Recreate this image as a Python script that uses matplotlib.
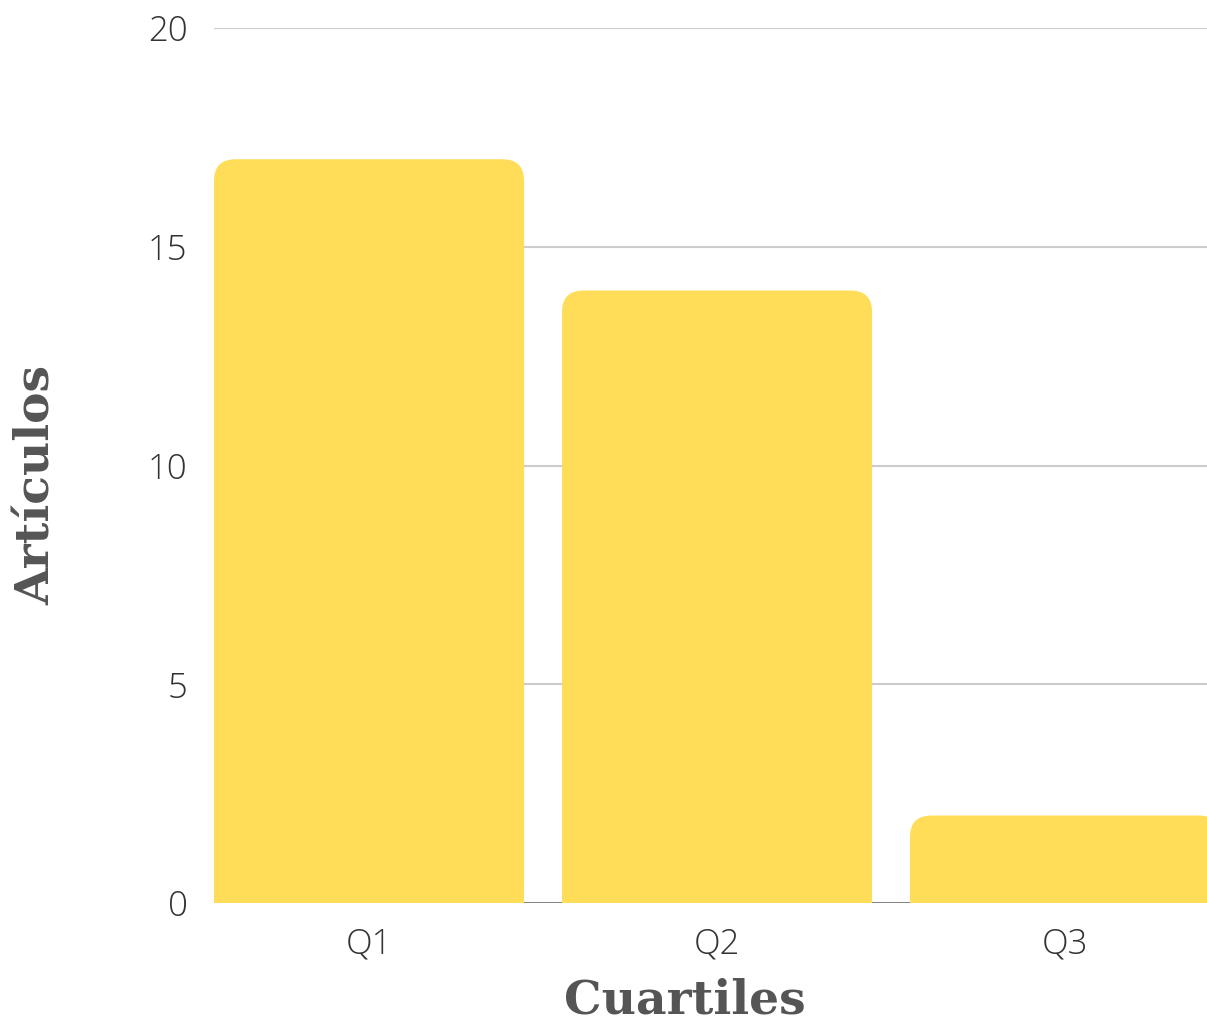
import matplotlib
matplotlib.use("Agg")
import matplotlib.pyplot as plt
from matplotlib.patches import FancyBboxPatch, Rectangle

# data
categories = ["Q1", "Q2", "Q3"]
articulos = [17, 14, 2]
y_ticks = [0, 5, 10, 15, 20]

bar_color = "#FFDD58"
text_color = "#333333"
title_color = "#555555"

fig = plt.figure(figsize=(12.07, 10.25), dpi=100)
ax = fig.add_axes([214 / 1207, 122 / 1025, 993 / 1207, 875 / 1025])

x = list(range(len(categories)))
width = 0.891
bars = ax.bar(x, articulos, width=width, color=bar_color, zorder=2)

# rounded top corners
rx = 0.062
ry = 0.49
for b in bars:
    bx, by = b.get_x(), b.get_y()
    bw, bh = b.get_width(), b.get_height()
    b.set_visible(False)
    ax.add_patch(FancyBboxPatch((bx, by), bw, bh,
                                boxstyle=f"round,pad=0,rounding_size={rx}",
                                mutation_aspect=ry / rx,
                                facecolor=bar_color, edgecolor="none", zorder=2))
    ax.add_patch(Rectangle((bx, by), bw, bh / 2, facecolor=bar_color,
                           edgecolor="none", zorder=2))

ax.set_xlim(-width / 2, -width / 2 + 993 / 348)
ax.set_ylim(0, 20)
ax.set_yticks(y_ticks)
ax.set_xticks(x)
ax.set_xticklabels(categories)

for s in ax.spines.values():
    s.set_visible(False)
ax.axhline(0, color="#777777", linewidth=1.2, zorder=1)
ax.grid(axis="y", color="#cccccc", linewidth=1.5, zorder=0)
ax.set_axisbelow(True)

ax.tick_params(axis="both", length=0, labelsize=25, labelcolor=text_color)
ax.tick_params(axis="y", pad=19)
ax.tick_params(axis="x", pad=17)
for lbl in ax.get_xticklabels() + ax.get_yticklabels():
    lbl.set_family("Open Sans")
    lbl.set_fontweight("light")

ax.set_ylabel("Artículos", fontsize=34, fontweight="bold",
              family="DejaVu Serif", color=title_color)
ax.set_xlabel("Cuartiles", fontsize=34, fontweight="bold",
              family="DejaVu Serif", color=title_color)
ax.yaxis.set_label_coords(-0.178, 0.478)
ax.xaxis.set_label_coords(0.474, -0.111)
ax.xaxis.label.set_va("center")
ax.yaxis.label.set_va("center")

fig.savefig("out.png", dpi=100)
